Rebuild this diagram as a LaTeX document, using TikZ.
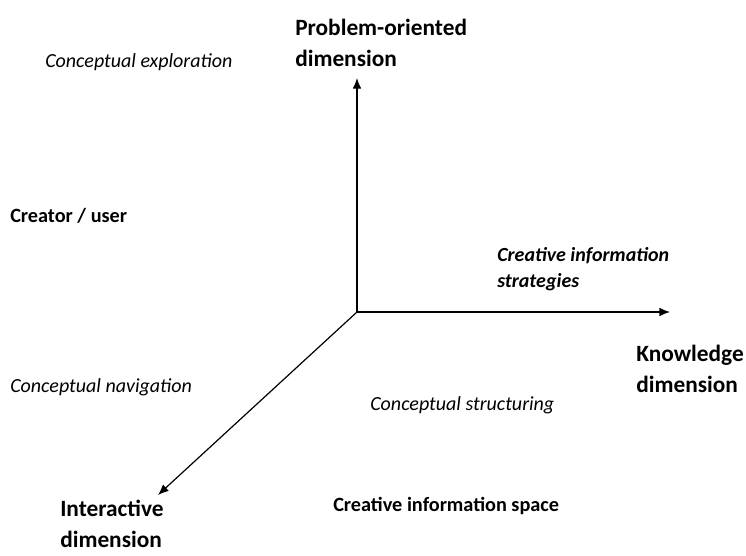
\documentclass[tikz,border=0pt]{standalone}
\usepackage{fontspec}
\setmainfont{Carlito}
\usetikzlibrary{arrows.meta}

\begin{document}
\begin{tikzpicture}[x=0.75pt,y=-0.75pt,
    axis/.style={line width=0.9pt,-{Latex[length=8pt,width=6.5pt]}},
    dimlabel/.style={anchor=west,inner sep=0pt,align=left,font=\fontsize{17.5}{23}\selectfont\bfseries},
    boldlabel/.style={anchor=west,inner sep=0pt,font=\fontsize{15.2}{20}\selectfont\bfseries},
    conclabel/.style={anchor=west,inner sep=0pt,font=\fontsize{15}{18}\selectfont\itshape}]
                \useasboundingbox (0,0) rectangle (746,556);

                \coordinate (o) at (357,312);
                \coordinate (up) at (357,78);
                \coordinate (right) at (670,312);
                \coordinate (down) at (158,495);

                \draw[axis] (o) -- (up);
                \draw[axis] (o) -- (right);
                \draw[axis] (o) -- (down);

                \node[dimlabel] (problem) at (295,43) {Problem-oriented\\dimension};
                \node[dimlabel] (knowledge) at (636,369) {Knowledge\\dimension};
                \node[dimlabel] (interactive) at (60,524) {Interactive\\dimension};

                \node[conclabel] (exploration) at (45,62) {Conceptual exploration};
                \node[conclabel] (navigation) at (10,387) {Conceptual navigation};
                \node[conclabel] (structuring) at (370,405) {Conceptual structuring};

                \node[boldlabel] (creator) at (10,216) {Creator / user};
                \node[boldlabel,align=left,font=\fontsize{15}{20}\selectfont\bfseries\itshape] (strategies) at (497,269) {Creative information\\strategies};
                \node[boldlabel] (space) at (333,506) {Creative information space};
            \end{tikzpicture}
\end{document}
